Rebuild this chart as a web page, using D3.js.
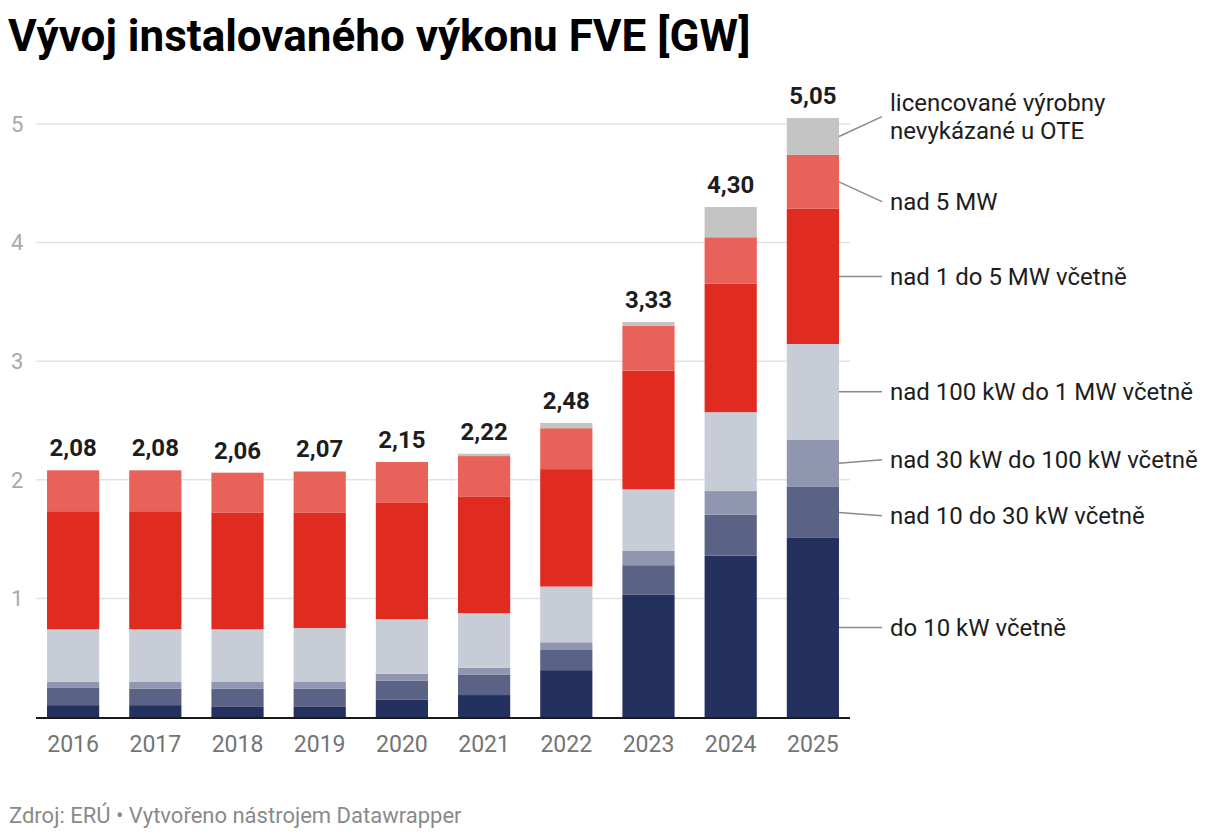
<!DOCTYPE html>
<html lang="cs">
<head>
<meta charset="utf-8">
<script src="https://cdn.jsdelivr.net/npm/d3@7"></script>
<style>
  body { margin: 0; background: #fff; font-family: Roboto, sans-serif; }
  svg text { font-family: Roboto, sans-serif; }
</style>
</head>
<body>
<svg id="chart" width="1220" height="840"></svg>
<script>
// Years on the x axis
const years = ['2016', '2017', '2018', '2019', '2020', '2021', '2022', '2023', '2024', '2025'];

// Category names (bottom to top of the stack)
const categories = [
  'do 10 kW včetně',
  'nad 10 do 30 kW včetně',
  'nad 30 kW do 100 kW včetně',
  'nad 100 kW do 1 MW včetně',
  'nad 1 do 5 MW včetně',
  'nad 5 MW',
  'licencované výrobny nevykázané u OTE',
];

// Installed capacity per category [GW], one value per year
const do10kW = [0.10, 0.10, 0.09, 0.09, 0.145, 0.185, 0.395, 1.03, 1.36, 1.51];
const nad10do30kW = [0.145, 0.14, 0.15, 0.15, 0.16, 0.17, 0.17, 0.25, 0.345, 0.43];
const nad30do100kW = [0.05, 0.055, 0.055, 0.055, 0.06, 0.06, 0.065, 0.12, 0.20, 0.40];
const nad100kWdo1MW = [0.445, 0.445, 0.445, 0.455, 0.46, 0.46, 0.47, 0.52, 0.665, 0.805];
const nad1do5MW = [0.995, 0.995, 0.985, 0.975, 0.985, 0.985, 0.99, 1.00, 1.085, 1.14];
const nad5MW = [0.345, 0.345, 0.335, 0.345, 0.34, 0.34, 0.345, 0.38, 0.39, 0.455];
const licencovane = [0, 0, 0, 0, 0, 0.02, 0.045, 0.03, 0.255, 0.31];

// Totals printed above the bars
const totals = ['2,08', '2,08', '2,06', '2,07', '2,15', '2,22', '2,48', '3,33', '4,30', '5,05'];

// Y axis ticks
const yTicks = [1, 2, 3, 4, 5];

const seriesValues = [do10kW, nad10do30kW, nad30do100kW, nad100kWdo1MW, nad1do5MW, nad5MW, licencovane];
const colors = ['#24305e', '#5a6386', '#9196b0', '#c8ccd6', '#e02b20', '#e8625a', '#c4c4c4'];

// Build a table the stack generator can use
const table = years.map((year, i) => {
  const row = { year };
  categories.forEach((c, k) => { row[c] = seriesValues[k][i]; });
  return row;
});

const svg = d3.select('#chart');

// Scales
const x = d3.scaleBand()
  .domain(years)
  .range([36, 850])
  .paddingInner(0.365)
  .paddingOuter(0.134);

const y = d3.scaleLinear()
  .domain([0, 5])
  .range([717, 124]);

// Title
svg.append('text')
  .attr('x', 8)
  .attr('y', 51)
  .style('font-size', '44px')
  .style('font-weight', '700')
  .style('fill', '#000')
  .text('Vývoj instalovaného výkonu FVE [GW]');

// Gridlines
svg.append('g')
  .selectAll('line')
  .data(yTicks)
  .join('line')
  .attr('x1', 36)
  .attr('x2', 850)
  .attr('y1', (d) => y(d))
  .attr('y2', (d) => y(d))
  .style('stroke', '#e3e3e3')
  .style('stroke-width', 1.5);

// Y tick labels
svg.append('g')
  .selectAll('text')
  .data(yTicks)
  .join('text')
  .attr('x', 11)
  .attr('y', (d) => y(d))
  .attr('dy', '0.35em')
  .style('font-size', '22px')
  .style('fill', '#a8a8a8')
  .text((d) => d);

// Stacked bars
const stacked = d3.stack().keys(categories)(table);

svg.append('g')
  .selectAll('g')
  .data(stacked)
  .join('g')
  .style('fill', (d, i) => colors[i])
  .selectAll('rect')
  .data((d) => d)
  .join('rect')
  .attr('x', (d) => x(d.data.year))
  .attr('width', x.bandwidth())
  .attr('y', (d) => y(d[1]))
  .attr('height', (d) => y(d[0]) - y(d[1]));

// Baseline
svg.append('line')
  .attr('x1', 36)
  .attr('x2', 850)
  .attr('y1', y(0) + 1)
  .attr('y2', y(0) + 1)
  .style('stroke', '#1a1a1a')
  .style('stroke-width', 2);

// X axis labels
const xAxis = svg.append('g')
  .attr('transform', `translate(0,${y(0) + 2})`)
  .call(d3.axisBottom(x).tickSize(0).tickPadding(17));
xAxis.select('.domain').remove();
xAxis.selectAll('text')
  .style('font-size', '23px')
  .style('font-family', 'Roboto, sans-serif')
  .style('fill', '#747474');

// Totals above bars
svg.append('g')
  .selectAll('text')
  .data(years)
  .join('text')
  .attr('x', (d) => x(d) + x.bandwidth() / 2)
  .attr('y', (d, i) => y(d3.sum(seriesValues, (s) => s[i])) - 14)
  .style('text-anchor', 'middle')
  .style('font-size', '24px')
  .style('font-weight', '700')
  .style('fill', '#1d1d1d')
  .text((d, i) => totals[i]);

// Direct labels on the right, attached to the last bar
const last = years.length - 1;
const lastStack = stacked.map((s) => s[last]);
const lineHeight = 28;
const labels = categories.map((c, i) => {
  const lines = c === categories[6] ? ['licencované výrobny', 'nevykázané u OTE'] : [c];
  const mid = y((lastStack[i][0] + lastStack[i][1]) / 2);
  // multi-line labels get a bit of extra room
  const h = lines.length * lineHeight + (lines.length - 1) * 30;
  return { lines, anchorY: mid, y: mid, h };
});

// Push overlapping labels apart
const gap = 28;
for (let iter = 0; iter < 200; iter++) {
  for (let i = 0; i < labels.length - 1; i++) {
    const a = labels[i];
    const b = labels[i + 1]; // b sits above a
    const need = (a.h + b.h) / 2 + gap;
    const overlap = need - (a.y - b.y);
    if (overlap > 0) {
      a.y += overlap / 2;
      b.y -= overlap / 2;
    }
  }
}

const barRight = x(years[last]) + x.bandwidth();
const labelGroup = svg.append('g');

labelGroup.selectAll('line')
  .data(labels)
  .join('line')
  .attr('x1', barRight)
  .attr('y1', (d) => d.anchorY)
  .attr('x2', barRight + 43)
  .attr('y2', (d) => d.y)
  .style('stroke', '#8a8a8a')
  .style('stroke-width', 1.5);

labelGroup.selectAll('text')
  .data(labels)
  .join('text')
  .attr('x', barRight + 51)
  .attr('y', (d) => d.y - ((d.lines.length - 1) * lineHeight) / 2)
  .style('font-size', '24px')
  .style('fill', '#1d1d1d')
  .each(function (d) {
    d3.select(this)
      .selectAll('tspan')
      .data(d.lines)
      .join('tspan')
      .attr('x', barRight + 51)
      .attr('dy', (l, k) => (k === 0 ? '0.35em' : `${lineHeight}px`))
      .text((l) => l);
  });

// Footer
svg.append('text')
  .attr('x', 9)
  .attr('y', 823)
  .style('font-size', '22px')
  .style('fill', '#8a8a8a')
  .text('Zdroj: ERÚ • Vytvořeno nástrojem Datawrapper');
</script>
</body>
</html>
